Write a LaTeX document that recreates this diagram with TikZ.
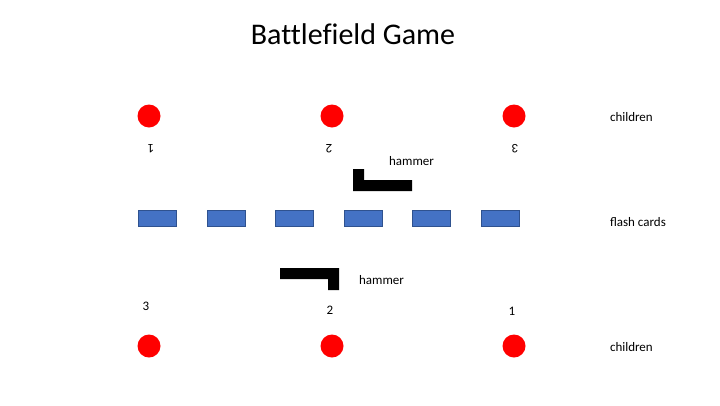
\documentclass[tikz,border=0pt]{standalone}
\usepackage{fontspec}
\setmainfont{Carlito}
\definecolor{cardblue}{HTML}{4472C4}
\definecolor{cardline}{HTML}{2F528F}
\begin{document}
\begin{tikzpicture}[x=1pt,y=-1pt,inner sep=0pt,outer sep=0pt,
child/.style={circle,fill=red,minimum size=23pt},
card/.style={draw=cardline,fill=cardblue,line width=0.8pt,rectangle,minimum width=38pt,minimum height=16pt},
lbl/.style={font=\fontsize{13}{15}\selectfont,anchor=base},
flip/.style={lbl,rotate=180}]
\useasboundingbox (0,0) rectangle (720,405);

\draw (353,44) node[anchor=base,font=\fontsize{30}{34}\selectfont\addfontfeatures{Ligatures=CommonOff}] (title) {Battlefield Game};

% children, top row
\draw (149,116) node[child] (top1) {};
\draw (332,116) node[child] (top2) {};
\draw (514,116) node[child] (top3) {};
\draw (151,144.5) node[flip] (num1) {1};
\draw (329,144.5) node[flip] (num2) {2};
\draw (515,144.5) node[flip] (num3) {3};

% flash cards
\draw (157.5,218.5) node[card] (card1) {};
\draw (226,218.5) node[card] (card2) {};
\draw (294.5,218.5) node[card] (card3) {};
\draw (363,218.5) node[card] (card4) {};
\draw (431,218.5) node[card] (card5) {};
\draw (500,218.5) node[card] (card6) {};

% hammers
\fill (353,169) -- (364,169) -- (364,180) -- (412,180) -- (412,191) -- (353,191) -- cycle;
\draw (411.5,165) node[lbl] (hamtop) {hammer};
\fill (280,268) -- (339,268) -- (339,290) -- (328,290) -- (328,279) -- (280,279) -- cycle;
\draw (381.5,284.5) node[lbl] (hambot) {hammer};

% children, bottom row
\draw (146,310) node[lbl] (num6) {3};
\draw (330,314) node[lbl] (num5) {2};
\draw (512,315) node[lbl] (num4) {1};
\draw (149,346) node[child] (bot1) {};
\draw (332,346) node[child] (bot2) {};
\draw (514,346) node[child] (bot3) {};

\draw (610,121) node[lbl,anchor=base west] (kidsA) {children};
\draw (610,226.5) node[lbl,anchor=base west] (cards) {flash cards};
\draw (610,351) node[lbl,anchor=base west] (kidsB) {children};
\end{tikzpicture}
\end{document}
